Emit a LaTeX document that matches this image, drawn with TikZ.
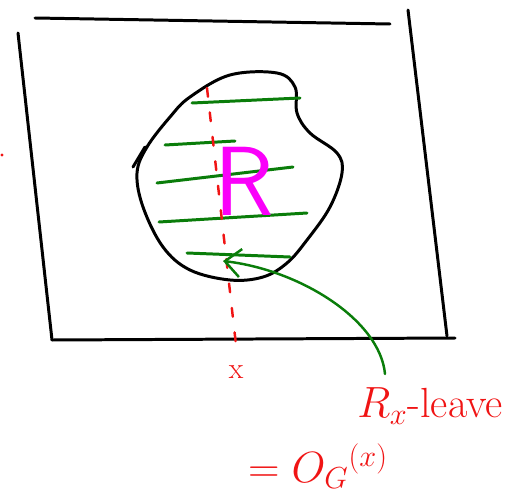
\documentclass[tikz,border=0pt]{standalone}
\definecolor{PenRed}{RGB}{240, 20, 20}
\definecolor{PenGreen}{RGB}{10, 125, 10}
\definecolor{PenPink}{RGB}{250, 0, 250}
\usepackage{amsmath, amssymb}
\usepackage{tikz}
\usetikzlibrary{arrows.meta, positioning}

\begin{document}
\begin{tikzpicture}[
    x=0.02cm, y=-0.02cm,
    line cap=round, line join=round,
    every node/.style={inner sep=0pt, align=center},
    frame/.style={draw=black, line width=1.7pt},
    blob/.style={draw=black, line width=1.7pt},
    hatch/.style={draw=PenGreen, line width=1.7pt},
    slice/.style={draw=PenRed, line width=1.4pt, dash pattern=on 5pt off 9pt},
    pointer/.style={draw=PenGreen, line width=1.4pt,
                    -{Straight Barb[length=9pt, width=16pt, line width=1.4pt]}},
    redtext/.style={text=PenRed, font=\fontsize{24}{28}\selectfont}
]
\useasboundingbox (0,0) rectangle (510,500);

% box
\draw[frame] (35,18) -- (390,24);
\draw[frame] (408,10) -- (447,336);
\draw[frame] (18,33) -- (52,340);
\draw[frame] (52,340) -- (455,338);
\fill[PenRed] (2,155) circle (1.6);

% region
\draw[blob] plot[smooth cycle, tension=0.6] coordinates {
  (190,97) (230,75) (277,73) (295,87) (297,113) (310,133) (337,153)
  (342,173) (330,207) (307,240) (287,263) (263,277) (230,280) (190,270)
  (163,247) (143,207) (137,173) (147,147) (170,117)};
\draw[blob] (133,167) -- (145,147);

% horizontal lines
\draw[hatch] (192,103) -- (300,98);
\draw[hatch] (165,145) -- (235,141);
\draw[hatch] (157,183) -- (293,167);
\draw[hatch] (159,222) -- (307,213);
\draw[hatch] (187,253) -- (290,257);

% the slice at x
\draw[slice] (207,88) -- (236,345);
\node[redtext, font=\fontsize{17}{20}\selectfont] (xlabel) at (236,372) {x};

\node[text=PenPink, font=\sffamily\fontsize{56}{60}\selectfont] (region) at (244,181) {R};

\node[redtext] (leave) at (430,406) {$R_x$-leave};
\node[redtext] (orbit) at (318,466) {$=O_G{}^{(x)}$};

\coordinate (tail) at (385,374);
\coordinate (tip) at (223,261);
\draw[pointer] (tail) .. controls (380,320) and (300,270) .. (tip);
\end{tikzpicture}
\end{document}
